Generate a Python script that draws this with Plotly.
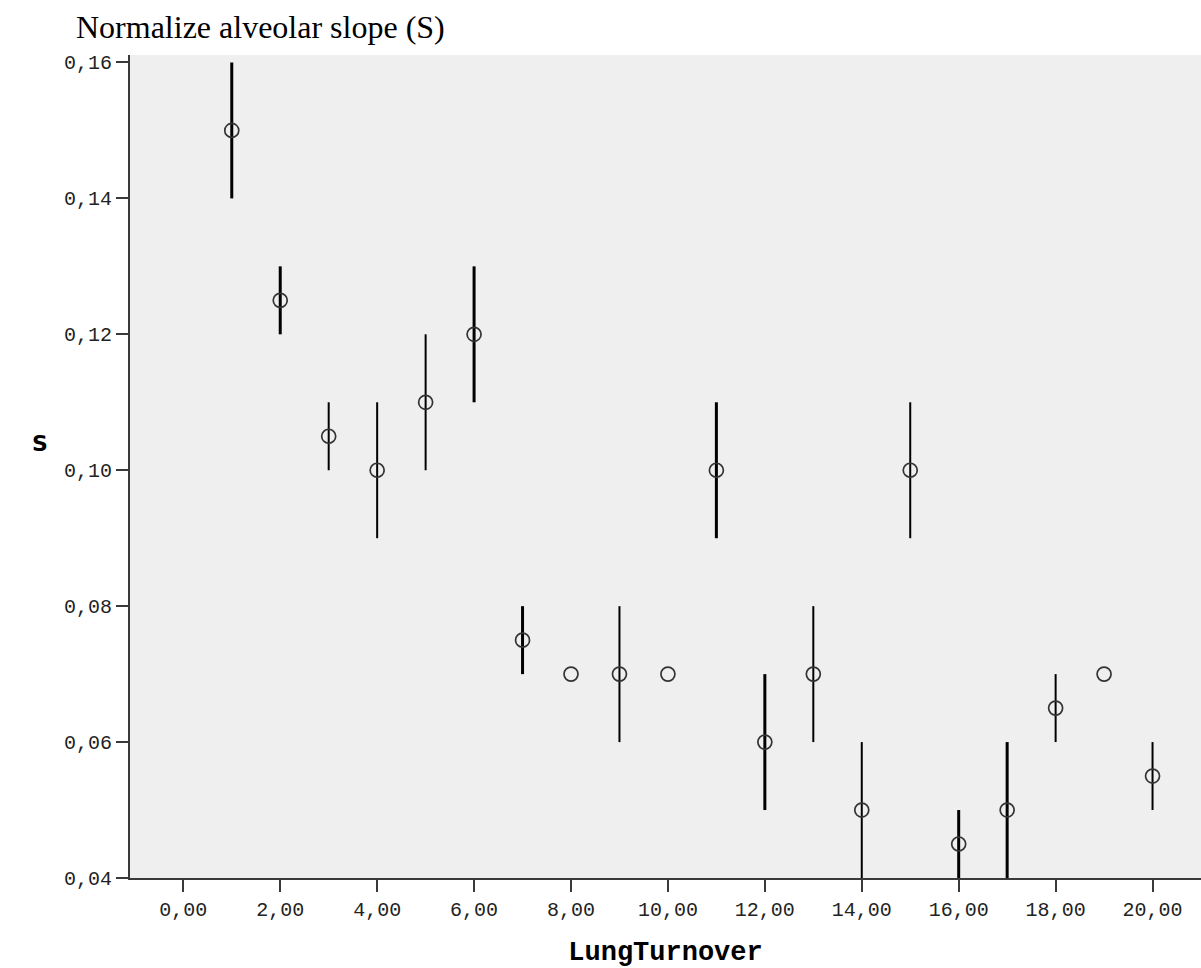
import plotly.graph_objects as go

# ---- data ----
lung_turnover = [1, 2, 3, 4, 5, 6, 7, 8, 9, 10, 11, 12, 13, 14, 15, 16, 17, 18, 19, 20]
s_mean = [0.150, 0.125, 0.105, 0.100, 0.110, 0.120, 0.075, 0.070, 0.070, 0.070,
          0.100, 0.060, 0.070, 0.050, 0.100, 0.045, 0.050, 0.065, 0.070, 0.055]
s_low = [0.140, 0.120, 0.100, 0.090, 0.100, 0.110, 0.070, 0.070, 0.060, 0.070,
         0.090, 0.050, 0.060, 0.040, 0.090, 0.040, 0.040, 0.060, 0.070, 0.050]
s_high = [0.160, 0.130, 0.110, 0.110, 0.120, 0.130, 0.080, 0.070, 0.080, 0.070,
          0.110, 0.070, 0.080, 0.060, 0.110, 0.050, 0.060, 0.070, 0.070, 0.060]

x_tick_vals = [0, 2, 4, 6, 8, 10, 12, 14, 16, 18, 20]
x_tick_text = ["0,00", "2,00", "4,00", "6,00", "8,00", "10,00", "12,00", "14,00", "16,00", "18,00", "20,00"]
y_tick_vals = [0.04, 0.06, 0.08, 0.10, 0.12, 0.14, 0.16]
y_tick_text = ["0,04", "0,06", "0,08", "0,10", "0,12", "0,14", "0,16"]

# style: which error bars are drawn heavier
thick_points = {1, 2, 6, 7, 11, 12, 16, 17}

fig = go.Figure()

for group, width in (("thin", 2), ("thick", 3)):
    idx = [i for i, x in enumerate(lung_turnover)
           if (x in thick_points) == (group == "thick")]
    xs = [lung_turnover[i] for i in idx]
    ys = [s_mean[i] for i in idx]
    up = [s_high[i] - s_mean[i] for i in idx]
    dn = [s_mean[i] - s_low[i] for i in idx]
    fig.add_trace(go.Scatter(
        x=xs, y=ys, mode="markers",
        marker=dict(symbol="circle-open", size=14, color="#333333",
                    line=dict(width=1.7, color="#333333")),
        error_y=dict(type="data", symmetric=False, array=up, arrayminus=dn,
                     color="black", thickness=width, width=0),
        showlegend=False, hoverinfo="x+y",
    ))

mono = "Liberation Mono"
W, H = 1201, 968

fig.update_layout(
    width=W, height=H,
    margin=dict(l=130, r=0, t=55, b=H - 878),
    paper_bgcolor="white",
    plot_bgcolor="#efefef",
    title=dict(text="Normalize alveolar slope (S)", x=76 / W, xanchor="left",
               y=1 - 27 / H, yanchor="middle",
               font=dict(family="Liberation Serif", size=32, color="black")),
    xaxis=dict(range=[-1.1, 21.0], tickvals=x_tick_vals, ticktext=x_tick_text,
               showgrid=False, zeroline=False, showline=True, linecolor="#3a3a3a",
               linewidth=2, ticks="outside", ticklen=12, tickwidth=2, tickcolor="#3a3a3a",
               tickfont=dict(family=mono, size=20, color="#222222"),
               title=dict(text="<b>LungTurnover</b>", standoff=20,
                          font=dict(family=mono, size=27, color="black"))),
    yaxis=dict(range=[0.04, 0.1611], tickvals=y_tick_vals, ticktext=y_tick_text,
               showgrid=False, zeroline=False, showline=True, linecolor="#3a3a3a",
               linewidth=2, ticks="outside", ticklen=12, tickwidth=2, tickcolor="#3a3a3a",
               tickfont=dict(family=mono, size=20, color="#222222")),
    annotations=[dict(text="<b>S</b>", xref="paper", yref="paper",
                      x=(40 - 130) / 1071, y=(878 - 443) / 823,
                      xanchor="center", yanchor="middle", showarrow=False,
                      font=dict(family="DejaVu Sans", size=22, color="black"))],
)

fig.write_html("out.html", config={"displayModeBar": False},
               post_script="document.body.style.margin='0';document.body.style.overflow='hidden';")
